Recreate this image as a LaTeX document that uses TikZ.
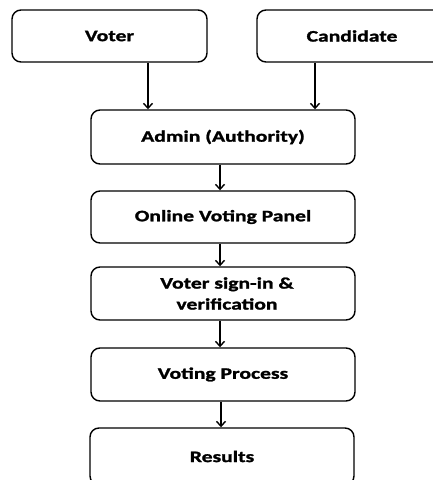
\documentclass[tikz,border=0pt]{standalone}
\usepackage{fontspec}
\setmainfont{Carlito}[FakeStretch=1.35,FakeBold=1.5]
\usetikzlibrary{arrows.meta}
\begin{document}
\begin{tikzpicture}[x=1pt,y=-1pt,
  box/.style={draw=black,line width=1.4pt,rounded corners=9pt,inner sep=0pt,
    align=center,font=\fontsize{16}{21}\selectfont\bfseries},
  conn/.style={line width=1.4pt,-{Straight Barb[length=5pt,width=9pt,line width=1.4pt]}}]
\useasboundingbox (0,0) rectangle (433,480);
\begin{scope}
\clip (0,0) rectangle (433,480);
\node[box,minimum width=195pt,minimum height=52pt] (voter) at (109.5,36) {Voter};
\node[box,minimum width=190pt,minimum height=52pt] (cand) at (352,36) {Candidate};
\node[box,minimum width=264pt,minimum height=54pt] (admin) at (223,137) {Admin (Authority)};
\node[box,minimum width=264pt,minimum height=52pt] (panel) at (223,217) {Online Voting Panel};
\node[box,minimum width=264pt,minimum height=53pt] (sign) at (223,293.5) {\hspace*{8pt}Voter sign-in \&\\\hspace*{8pt}verification};
\node[box,minimum width=264pt,minimum height=53pt] (proc) at (223,374.5) {Voting Process};
\node[box,minimum width=264pt,minimum height=57pt] (res) at (222,456.5) {Results};
\end{scope}
\draw[conn] (148,0 |- voter.south) -- (148,0 |- admin.north);
\draw[conn] (315,0 |- cand.south) -- (315,0 |- admin.north);
\draw[conn] (220,0 |- admin.south) -- (220,0 |- panel.north);
\draw[conn] (220,0 |- panel.south) -- (220,0 |- sign.north);
\draw[conn] (220,0 |- sign.south) -- (220,0 |- proc.north);
\draw[conn] (221,0 |- proc.south) -- (221,0 |- res.north);
\end{tikzpicture}
\end{document}
